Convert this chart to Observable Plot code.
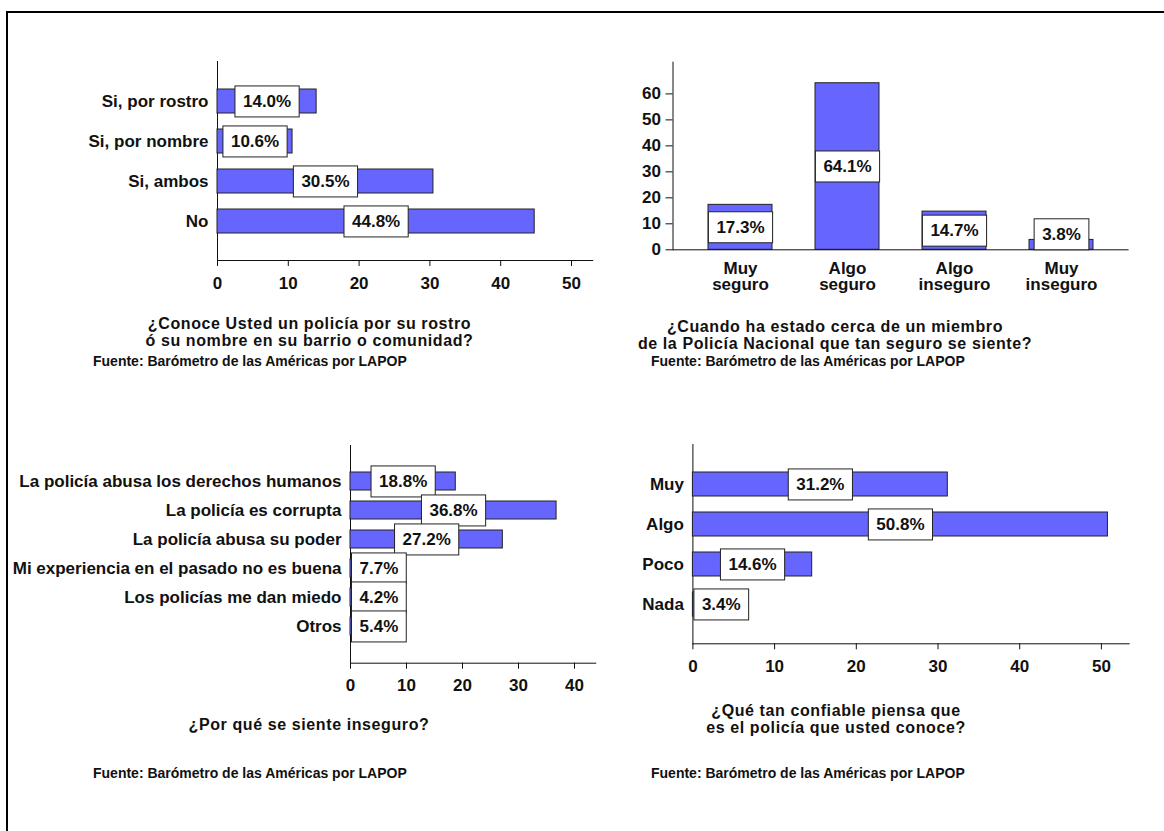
<!DOCTYPE html>
<html>
<head>
<meta charset="utf-8">
<script src="https://cdn.jsdelivr.net/npm/d3@7"></script>
<script src="https://cdn.jsdelivr.net/npm/@observablehq/plot@0.6"></script>
<style>
html,body{margin:0;padding:0;background:#fff;overflow:hidden}
#root{position:relative;width:1164px;height:831px;font-family:"Liberation Sans",Arial,sans-serif;font-weight:bold;color:#111}
#frame{position:absolute;left:6px;top:11px;width:1300px;height:1000px;border-left:2px solid #000;border-top:2px solid #000}
.title{position:absolute;width:600px;text-align:center;font-size:16px;letter-spacing:0.6px;line-height:17px;white-space:nowrap}
.cap{position:absolute;font-size:14px;line-height:16px;white-space:nowrap}
#root svg{position:absolute}
</style>
</head>
<body>
<div id="root"><div id="frame"></div></div>
<script>
// ---- data ----
const conoceCats = ["Si, por rostro", "Si, por nombre", "Si, ambos", "No"];
const conoceVals = [14.0, 10.6, 30.5, 44.8];

const seguroCats = ["Muy seguro", "Algo seguro", "Algo inseguro", "Muy inseguro"];
const seguroVals = [17.3, 64.1, 14.7, 3.8];

const insegCats = [
  "La policía abusa los derechos humanos",
  "La policía es corrupta",
  "La policía abusa su poder",
  "Mi experiencia en el pasado no es buena",
  "Los policías me dan miedo",
  "Otros"
];
const insegVals = [18.8, 36.8, 27.2, 7.7, 4.2, 5.4];

const confCats = ["Muy", "Algo", "Poco", "Nada"];
const confVals = [31.2, 50.8, 14.6, 3.4];

const titles = [
  "¿Conoce Usted un policía por su rostro<br>ó su nombre en su barrio o comunidad?",
  "¿Cuando ha estado cerca de un miembro<br>de la Policía Nacional que tan seguro se siente?",
  "¿Por qué se siente inseguro?",
  "¿Qué tan confiable piensa que<br>es el policía que usted conoce?"
];
const caption = "Fuente: Barómetro de las Américas por LAPOP";

// ---- helpers ----
const root = document.getElementById("root");
const BAR = "#6666ff";
const EDGE = "#222";
const pct = v => v.toFixed(1) + "%";
const rows = (cats, vals) => cats.map((c, i) => ({cat: c, v: vals[i]}));
const baseStyle = {
  fontFamily: '"Liberation Sans", Arial, sans-serif',
  fontSize: "17px",
  fontWeight: "bold",
  color: "#111",
  background: "none",
  overflow: "visible"
};

function place(svg, left, top) {
  svg.style.left = left + "px";
  svg.style.top = top + "px";
  root.appendChild(svg);
}

// draw white boxes behind the value labels; keep them clear of the axis
function boxLabels(svg, axisX, axisY) {
  const sr = svg.getBoundingClientRect();
  svg.querySelectorAll("text").forEach(t => {
    if (!/%$/.test(t.textContent)) return;
    const b = t.getBBox();
    const padX = 8, h = 31;
    const rx = b.x - padX, rw = b.width + 2 * padX;
    const cy = b.y + b.height / 2, ry = cy - h / 2;
    const cr = t.getBoundingClientRect();
    let dx = 0, dy = 0;
    if (axisX != null) {
      const leftPx = cr.left - sr.left - padX;
      if (leftPx < axisX + 1.5) dx = axisX + 1.5 - leftPx;
    }
    if (axisY != null) {
      const midPx = (cr.top + cr.bottom) / 2 - sr.top;
      const bottomPx = midPx + h / 2;
      if (bottomPx > axisY + 0.5) dy = axisY + 0.5 - bottomPx;
    }
    const r = document.createElementNS("http://www.w3.org/2000/svg", "rect");
    r.setAttribute("x", rx); r.setAttribute("y", ry);
    r.setAttribute("width", rw); r.setAttribute("height", h);
    r.setAttribute("fill", "#fff");
    r.setAttribute("stroke", EDGE);
    r.setAttribute("stroke-width", 1);
    const tr = t.getAttribute("transform") || "";
    const shift = (dx || dy) ? `translate(${dx},${dy}) ` : "";
    if (tr || shift) {
      r.setAttribute("transform", shift + tr);
      t.setAttribute("transform", shift + tr);
    }
    t.parentNode.insertBefore(r, t);
  });
}

function hbar(cats, vals, o) {
  const data = rows(cats, vals);
  const plotW = o.xmax * o.pxPerUnit;
  return Plot.plot({
    width: o.width, height: o.height,
    marginLeft: o.ml, marginRight: o.width - o.ml - plotW,
    marginTop: o.mt, marginBottom: o.mb,
    style: baseStyle,
    x: {domain: [0, o.xmax], ticks: o.ticks, tickSize: 6, tickPadding: 10, line: true, label: null},
    y: {domain: cats, paddingInner: o.pi, paddingOuter: o.po, tickSize: 0, tickPadding: 9, line: true, label: null},
    marks: [
      Plot.barX(data, {x: "v", y: "cat", fill: BAR, stroke: EDGE, strokeWidth: 1}),
      Plot.text(data, {x: d => d.v / 2, y: "cat", text: d => pct(d.v), fontSize: 17, fontWeight: "bold", fill: "#111"})
    ]
  });
}

// ---- panel 1 ----
const p1 = hbar(conoceCats, conoceVals, {
  width: 610, height: 260, ml: 217, mt: 21, mb: 40,
  xmax: 53, pxPerUnit: 7.08, ticks: [0, 10, 20, 30, 40, 50], pi: 0.41, po: 0.64
});
place(p1, 0, 40);
boxLabels(p1, 217, null);

// ---- panel 2 ----
const d2 = rows(seguroCats, seguroVals);
const p2 = Plot.plot({
  width: 540, height: 270,
  marginLeft: 72.5, marginRight: 11.4,
  marginTop: 21.7, marginBottom: 270 - 209.3,
  style: baseStyle,
  x: {domain: seguroCats, paddingInner: 0.406, paddingOuter: 0.316, axis: null},
  y: {domain: [0, 72.2], ticks: [0, 10, 20, 30, 40, 50, 60], tickSize: 7, tickPadding: 5, line: true, label: null},
  marks: [
    Plot.barY(d2, {x: "cat", y: "v", fill: BAR, stroke: EDGE, strokeWidth: 1}),
    Plot.ruleY([0], {stroke: "#111", strokeWidth: 1}),
    Plot.text(d2, {x: "cat", y: d => d.v / 2, text: d => pct(d.v), fontSize: 17, fontWeight: "bold", fill: "#111"}),
    Plot.text(seguroCats, {x: d => d, text: d => d.replace(" ", "\n"), frameAnchor: "bottom", lineAnchor: "top", dy: 12, lineHeight: 0.98, fontSize: 17, fill: "#111"})
  ]
});
place(p2, 600, 40);
boxLabels(p2, null, 209.3);

// ---- panel 3 ----
const p3 = hbar(insegCats, insegVals, {
  width: 610, height: 283, ml: 350, mt: 25, mb: 283 - 242.7,
  xmax: 43.8, pxPerUnit: 5.6, ticks: [0, 10, 20, 30, 40], pi: 0.383, po: 0.835
});
place(p3, 0, 420);
boxLabels(p3, 350, null);

// ---- panel 4 ----
const p4 = hbar(confCats, confVals, {
  width: 540, height: 264, ml: 92.4, mt: 24, mb: 264 - 223.3,
  xmax: 53.4, pxPerUnit: 8.17, ticks: [0, 10, 20, 30, 40, 50], pi: 0.41, po: 0.64
});
place(p4, 600, 420);
boxLabels(p4, 92.4, null);

// ---- titles and captions ----
const titlePos = [[9.5, 314.5], [535, 317.5], [9, 715.5], [536, 701.5]];
const capPos = [[93, 353], [651, 353], [93, 765], [651, 765]];
titles.forEach((t, i) => {
  const d = document.createElement("div");
  d.className = "title";
  d.style.left = titlePos[i][0] + "px";
  d.style.top = titlePos[i][1] + "px";
  d.innerHTML = t;
  root.appendChild(d);
  const c = document.createElement("div");
  c.className = "cap";
  c.style.left = capPos[i][0] + "px";
  c.style.top = capPos[i][1] + "px";
  c.textContent = caption;
  root.appendChild(c);
});
</script>
</body>
</html>
